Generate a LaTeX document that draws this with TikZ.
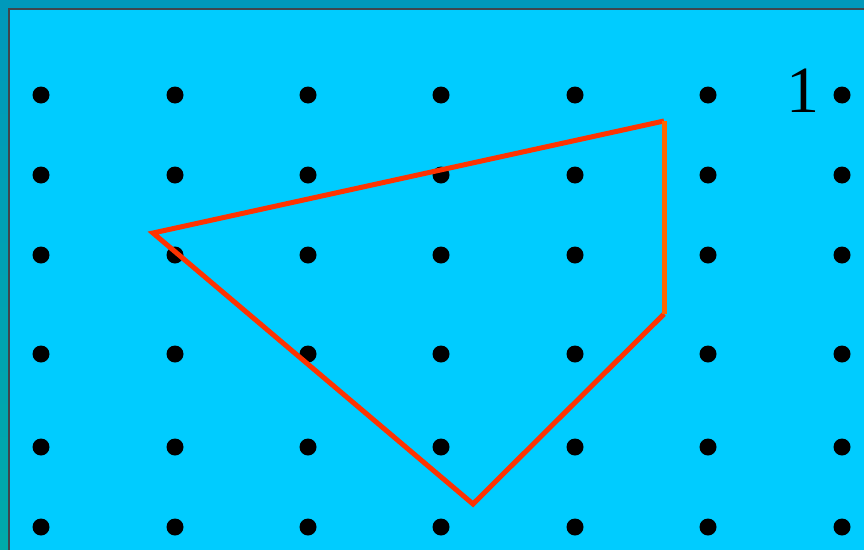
\documentclass[tikz,border=0pt]{standalone}
\usepackage{fontspec}
\setmainfont{Liberation Serif}
\usepackage{tikz}
\usetikzlibrary{positioning,calc}
\definecolor{framecyan}{RGB}{0, 204, 255}
\definecolor{outerteal}{RGB}{0, 153, 187}
\definecolor{outergreen}{RGB}{0, 170, 170}
\definecolor{edgered}{RGB}{255, 51, 0}
\definecolor{edgeorange}{RGB}{255, 102, 0}

\begin{document}
\begin{tikzpicture}[
    x=1pt, y=-1pt,
    peg/.style={circle, fill=black, inner sep=0pt, minimum size=17pt},
    edge/.style={line width=5pt, edgered},
]
    \useasboundingbox (0,0) rectangle (864,549);
    % Background
    \shade[top color=outerteal, bottom color=outergreen] (0,0) rectangle (864,549);
    \draw[fill=framecyan, draw=black!80!cyan, line width=2pt] (9,9) rectangle (880,560);

    % Pegs
    \foreach \y [count=\r] in {95,175,255,354,447,527}
        \foreach \x [count=\c] in {41,175,308,441,575,708,842}
            \node[peg] (p\r\c) at (\x,\y) {};

    % Label
    \node[font=\fontsize{66}{66}\selectfont, inner sep=0pt] (one) at (803,91) {1};

    % Polygon corners
    \coordinate (a) at (153,233);
    \coordinate (b) at (664,121);
    \coordinate (c) at (664,314);
    \coordinate (d) at (473,504);

    % Polygon
    \draw[edge] (c) -- (d) -- (a) -- (b);
    \draw[edge, edgeorange] (b) -- (c);
\end{tikzpicture}
\end{document}
